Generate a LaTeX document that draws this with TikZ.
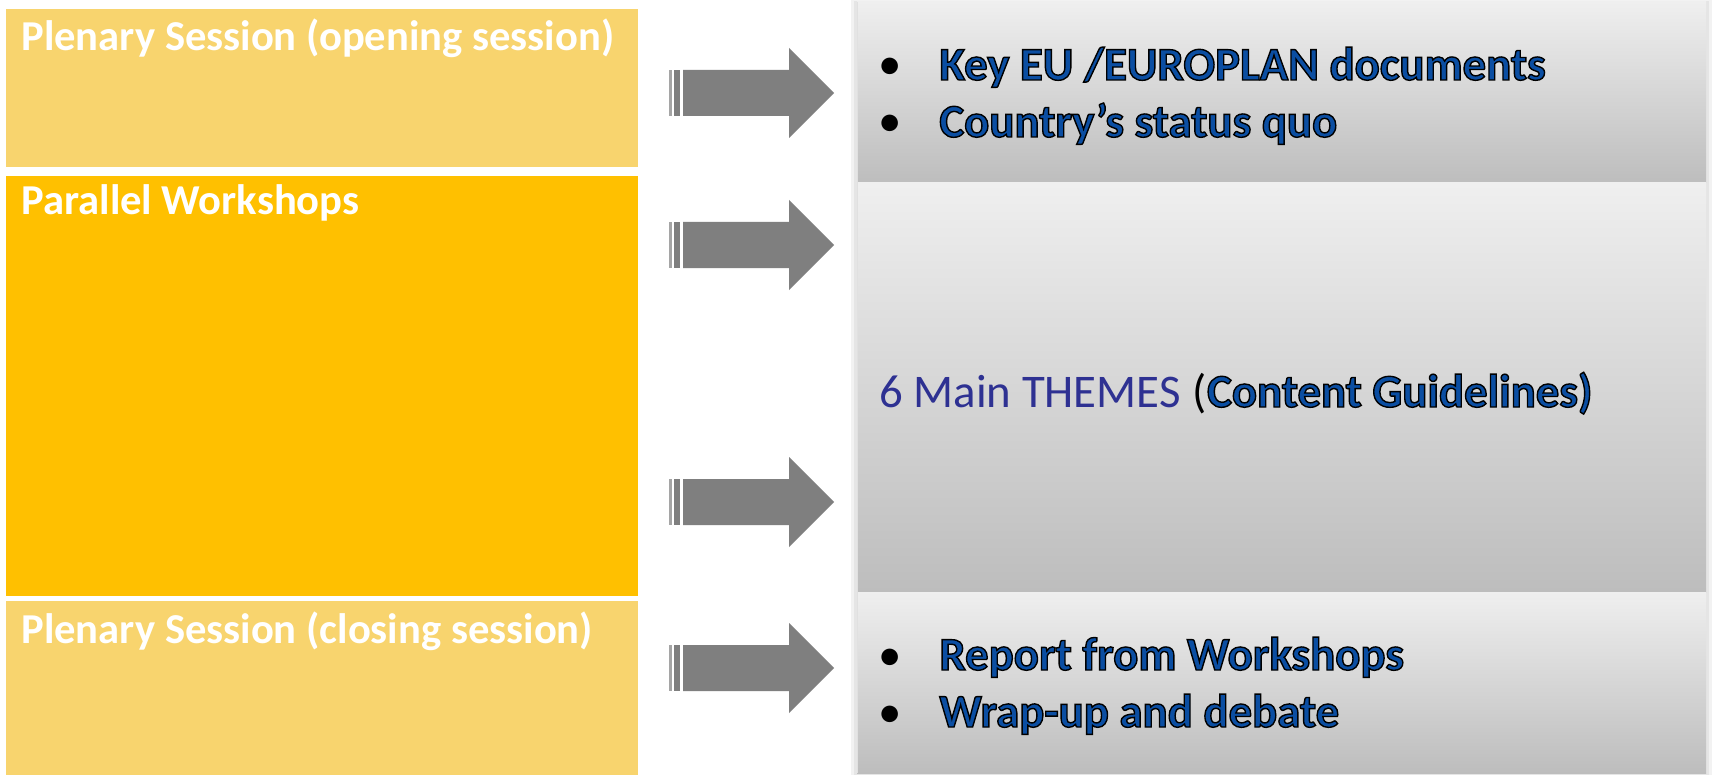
\documentclass[tikz,border=0pt]{standalone}
\usepackage{fontspec}
\setmainfont{Carlito}
\definecolor{gold}{HTML}{F8D46E}
\definecolor{amber}{HTML}{FFC000}
\definecolor{arrowgray}{HTML}{7F7F7F}
\definecolor{textblue}{HTML}{0B4EA2}
\definecolor{themeblue}{HTML}{2E3192}
\definecolor{paneltop}{HTML}{EFEFEF}
\definecolor{panelbottom}{HTML}{BDBDBD}
% blue lettering with a thin black outline (fill and stroke text rendering)
\newcommand{\bluetext}[1]{\textcolor{textblue}{%
  \special{pdf:literal direct 2 Tr 0.7 w 0 G}#1\special{pdf:literal direct 0 Tr}}}
\begin{document}
\begin{tikzpicture}[x=0.5pt,y=-0.5pt,
  sessbox/.style={anchor=north west, inner sep=0pt, minimum width=316pt},
  sesslabel/.style={anchor=base west, inner sep=0pt, text=white, font=\fontsize{21.3}{25}\selectfont\bfseries},
  panel/.style={top color=paneltop, bottom color=panelbottom},
  itemtext/.style={anchor=base west, inner sep=0pt, font=\fontsize{23.4}{28}\selectfont\bfseries},
  bulletdot/.style={anchor=base, inner sep=0pt, font=\fontsize{23.4}{28}\selectfont},
  striparrow/.pic={
    \fill[arrowgray!70] (1,-23) rectangle (4,23);
    \fill[arrowgray] (6,-23) rectangle (12,23);
    \fill[arrowgray] (15,-23) -- (121,-23) -- (121,-45) -- (166,0)
      -- (121,45) -- (121,23) -- (15,23) -- cycle;
  }]
\useasboundingbox (0,0) rectangle (1712,775);
\fill[white] (0,0) rectangle (1712,775);

% session blocks on the left
\node[sessbox, fill=gold, minimum height=79pt] (open) at (6,9) {};
\node[sessbox, fill=amber, minimum height=210pt] (work) at (6,176) {};
\node[sessbox, fill=gold, minimum height=87pt] (close) at (6,601) {};
\node[sesslabel] (openlbl) at (21,51) {Plenary Session (opening session)};
\node[sesslabel] (worklbl) at (21,215) {Parallel Workshops};
\node[sesslabel] (closelbl) at (21,643) {Plenary Session (closing session)};

% soft shadow behind the content panels
\fill[black, opacity=0.05] (851,0) rectangle (1712,775);
\fill[black, opacity=0.05] (854,1) rectangle (1709,775);

% content panels on the right
\shade[panel] (857,2) rectangle (1706,183);
\shade[panel] (857,183) rectangle (1706,592);
\shade[panel] (857,592) rectangle (1706,773);
\draw[black!12, line width=0.5pt] (857,2) -- (857,773);

% block arrows
\pic at (668,93) {striparrow};
\pic at (668,245) {striparrow};
\pic at (668,502) {striparrow};
\pic at (668,668) {striparrow};

% opening session content
\node[bulletdot] (b1) at (890,80) {•};
\node[itemtext] (t1) at (939,80) {\bluetext{Key EU /EUROPLAN documents}};
\node[bulletdot] (b2) at (890,137) {•};
\node[itemtext] (t2) at (939,137) {\bluetext{Country’s status quo}};

% workshop themes
\node[anchor=base west, inner sep=0pt, font=\fontsize{23.4}{28}\selectfont, text=themeblue]
  (themes) at (879,407) {6 Main THEMES};
\node[anchor=base west, inner sep=0pt, font=\fontsize{23.4}{28}\selectfont]
  (paren) at (themes.base east) {\ (};
\node[itemtext] (guide) at (paren.base east) {\bluetext{Content Guidelines)}};

% closing session content
\node[bulletdot] (b3) at (890,670) {•};
\node[itemtext] (t3) at (939,670) {\bluetext{Report from Workshops}};
\node[bulletdot] (b4) at (890,727) {•};
\node[itemtext] (t4) at (939,727) {\bluetext{Wrap-up and debate}};
\end{tikzpicture}
\end{document}
